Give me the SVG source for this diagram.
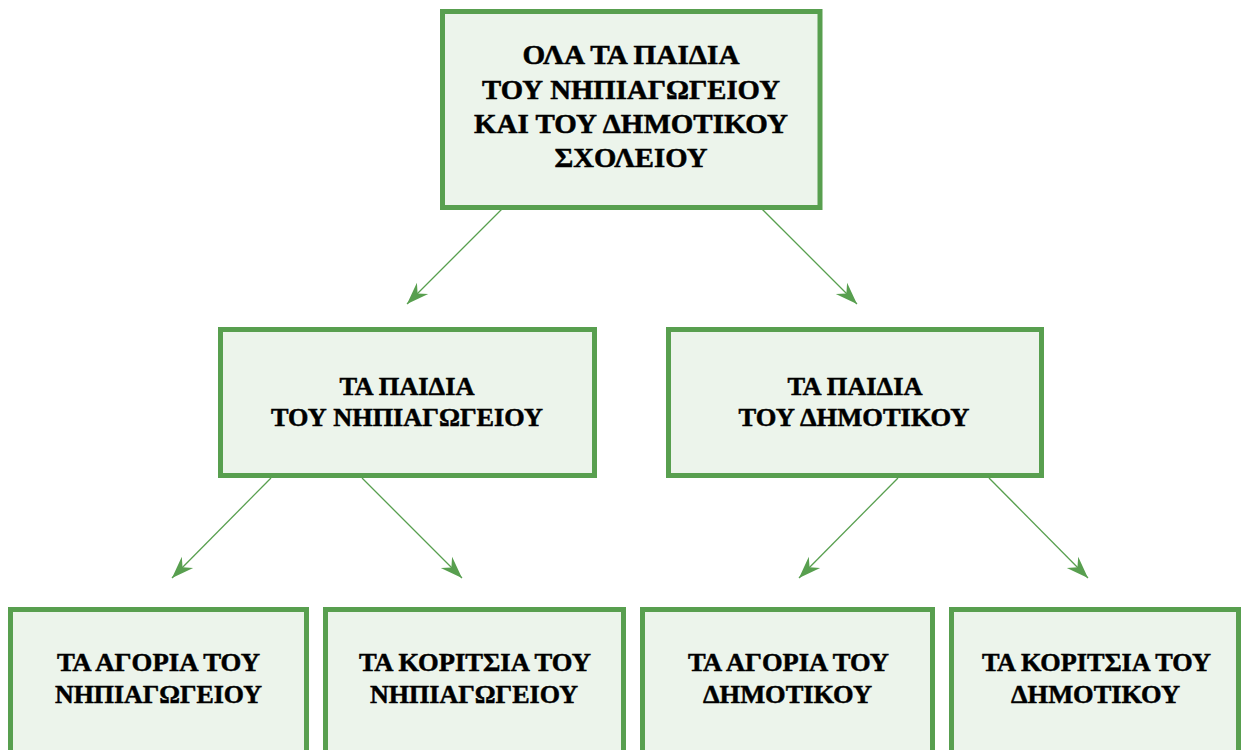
<svg xmlns="http://www.w3.org/2000/svg" width="1241" height="750" viewBox="0 0 1241 750">
<style>
.box{fill:#ecf4eb;stroke:#589f4f;stroke-width:5}
.t{font-family:"Liberation Serif","Times New Roman",serif;font-weight:bold;fill:#000;stroke:#000;stroke-width:0.5;text-anchor:middle}
.t1{font-size:28px}
.t2{font-size:26px}
.t3{font-size:26px}
.c{stroke:#589f4f;stroke-width:1.3;fill:none;marker-end:url(#ah)}
</style>
<defs>
<marker id="ah" markerUnits="userSpaceOnUse" viewBox="-23 -10 24 20" refX="0" refY="0" markerWidth="24" markerHeight="20" orient="auto">
<path d="M0,0 L-22,-8 L-15,0 L-22,8 Z" fill="#589f4f"/>
</marker>
</defs>
<rect width="1241" height="750" fill="#fff"/>
<g id="connectors">
<line class="c" x1="502" y1="209" x2="407" y2="304"/>
<line class="c" x1="762" y1="209" x2="857" y2="304"/>
<line class="c" x1="271" y1="478" x2="172" y2="578"/>
<line class="c" x1="362" y1="478" x2="462" y2="578"/>
<line class="c" x1="898" y1="478" x2="799" y2="578"/>
<line class="c" x1="989" y1="478" x2="1088" y2="578"/>
</g>
<g id="root">
<rect class="box" x="442.5" y="11.5" width="377.5" height="196"/>
<text class="t t1" x="631" y="64" textLength="217" lengthAdjust="spacingAndGlyphs">ΟΛΑ ΤΑ ΠΑΙΔΙΑ</text>
<text class="t t1" x="631" y="98.5" textLength="298" lengthAdjust="spacingAndGlyphs">ΤΟΥ ΝΗΠΙΑΓΩΓΕΙΟΥ</text>
<text class="t t1" x="631" y="133" textLength="314" lengthAdjust="spacingAndGlyphs">ΚΑΙ ΤΟΥ ΔΗΜΟΤΙΚΟΥ</text>
<text class="t t1" x="631" y="167" textLength="153" lengthAdjust="spacingAndGlyphs">ΣΧΟΛΕΙΟΥ</text>
</g>
<g id="kindergarten">
<rect class="box" x="220.5" y="329.5" width="374" height="146"/>
<text class="t t2" x="407" y="395" textLength="135" lengthAdjust="spacingAndGlyphs">ΤΑ ΠΑΙΔΙΑ</text>
<text class="t t2" x="407" y="426" textLength="272" lengthAdjust="spacingAndGlyphs">ΤΟΥ ΝΗΠΙΑΓΩΓΕΙΟΥ</text>
</g>
<g id="primary">
<rect class="box" x="668.5" y="329.5" width="373" height="146"/>
<text class="t t2" x="855" y="395" textLength="135" lengthAdjust="spacingAndGlyphs">ΤΑ ΠΑΙΔΙΑ</text>
<text class="t t2" x="854" y="426" textLength="231" lengthAdjust="spacingAndGlyphs">ΤΟΥ ΔΗΜΟΤΙΚΟΥ</text>
</g>
<g id="k-boys">
<rect class="box" x="10.5" y="609.5" width="296" height="200"/>
<text class="t t3" x="158.5" y="671" textLength="203" lengthAdjust="spacingAndGlyphs">ΤΑ ΑΓΟΡΙΑ ΤΟΥ</text>
<text class="t t3" x="158.5" y="703" textLength="207" lengthAdjust="spacingAndGlyphs">ΝΗΠΙΑΓΩΓΕΙΟΥ</text>
</g>
<g id="k-girls">
<rect class="box" x="325.5" y="609.5" width="298" height="200"/>
<text class="t t3" x="475" y="671" textLength="232" lengthAdjust="spacingAndGlyphs">ΤΑ ΚΟΡΙΤΣΙΑ ΤΟΥ</text>
<text class="t t3" x="474" y="703" textLength="208" lengthAdjust="spacingAndGlyphs">ΝΗΠΙΑΓΩΓΕΙΟΥ</text>
</g>
<g id="p-boys">
<rect class="box" x="642.5" y="609.5" width="290" height="200"/>
<text class="t t3" x="788.5" y="671" textLength="201" lengthAdjust="spacingAndGlyphs">ΤΑ ΑΓΟΡΙΑ ΤΟΥ</text>
<text class="t t3" x="787.5" y="703" textLength="169" lengthAdjust="spacingAndGlyphs">ΔΗΜΟΤΙΚΟΥ</text>
</g>
<g id="p-girls">
<rect class="box" x="951.5" y="609.5" width="287" height="200"/>
<text class="t t3" x="1096.5" y="671" textLength="229" lengthAdjust="spacingAndGlyphs">ΤΑ ΚΟΡΙΤΣΙΑ ΤΟΥ</text>
<text class="t t3" x="1095.5" y="703" textLength="169" lengthAdjust="spacingAndGlyphs">ΔΗΜΟΤΙΚΟΥ</text>
</g>
</svg>
